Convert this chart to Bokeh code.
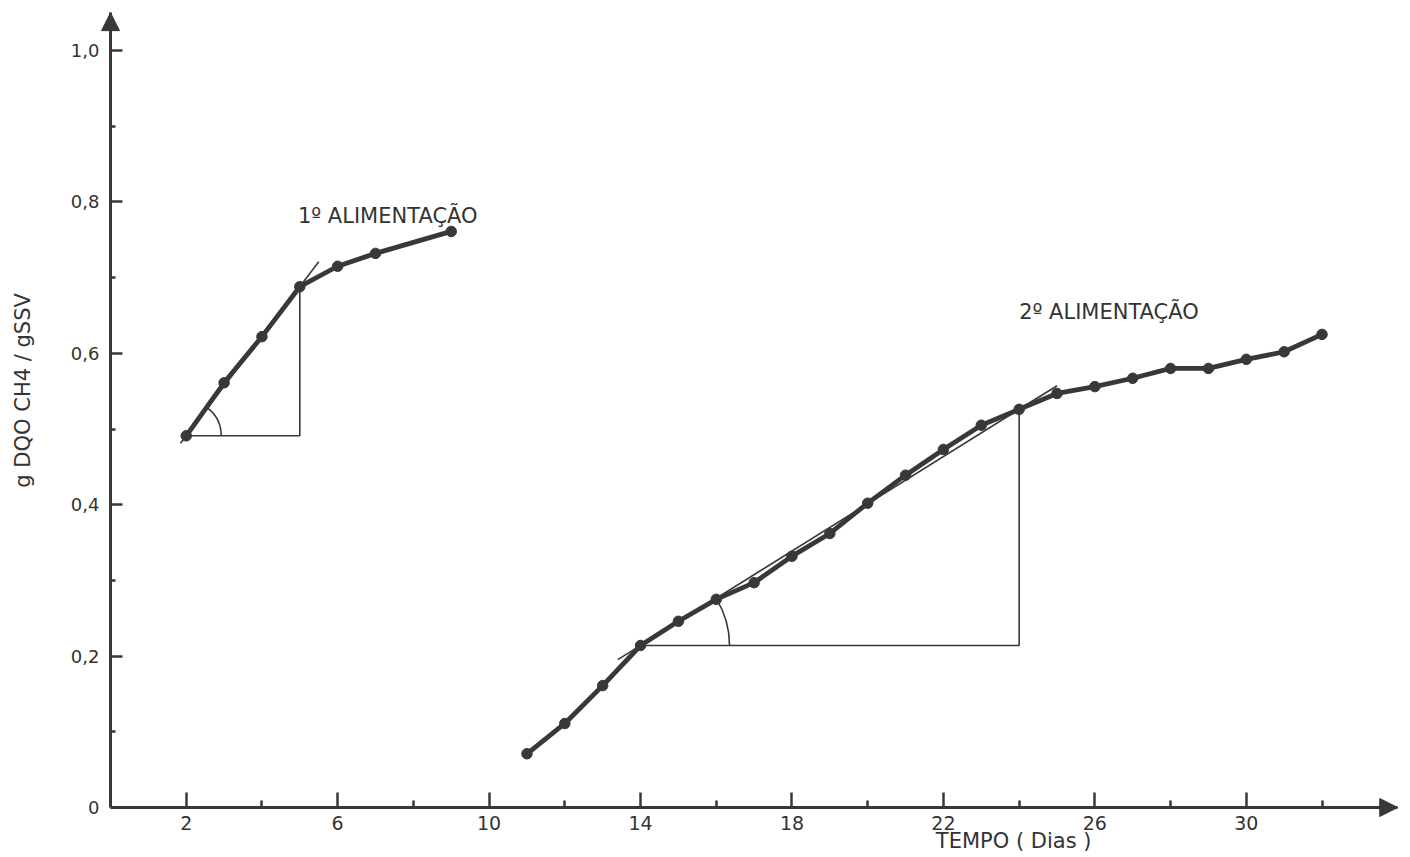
import math
from bokeh.plotting import figure
from bokeh.models import FixedTicker, CustomJSTickFormatter, Label, Arrow, NormalHead
from bokeh.embed import file_html
from bokeh.resources import INLINE

# ---------------- data ----------------
days_1 = [2, 3, 4, 5, 6, 7, 9]
cod_1 = [0.491, 0.561, 0.622, 0.688, 0.715, 0.732, 0.761]

days_2 = [11, 12, 13, 14, 15, 16, 17, 18, 19, 20, 21, 22, 23, 24, 25, 26, 27, 28, 29, 30, 31, 32]
cod_2 = [0.071, 0.111, 0.161, 0.214, 0.246, 0.275, 0.297, 0.332, 0.362, 0.402, 0.439,
         0.473, 0.505, 0.526, 0.547, 0.556, 0.567, 0.580, 0.580, 0.592, 0.602, 0.625]

x_ticks = [2, 6, 10, 14, 18, 22, 26, 30]
x_tick_labels = ["2", "6", "10", "14", "18", "22", "26", "30"]
x_minor_ticks = [4, 8, 12, 16, 20, 24, 28, 32]

y_ticks = [0, 0.2, 0.4, 0.6, 0.8, 1.0]
y_tick_labels = ["0", "0,2", "0,4", "0,6", "0,8", "1,0"]
y_minor_ticks = [0.1, 0.3, 0.5, 0.7, 0.9]

series_labels = ["1º ALIMENTAÇÃO", "2º ALIMENTAÇÃO"]
x_title = "TEMPO ( Dias )"
y_title = "g DQO CH4 / gSSV"

# index pairs of the points used for the slope (tangent) construction
slope_idx_1 = (0, 3)
slope_idx_2 = (3, 13)

# ---------------- layout ----------------
W, H = 1402, 857
ORIGIN_X, ORIGIN_Y = 110, 807          # pixel position of (0, 0)
PX_X, PX_Y = 37.86, 757.0              # pixels per day, pixels per unit
X_AX_END, Y_AX_END = 34.0, 1.05        # axis extents (arrow tips)

x_start = -ORIGIN_X / PX_X
x_end = (W - ORIGIN_X) / PX_X
y_start = -(H - ORIGIN_Y) / PX_Y
y_end = ORIGIN_Y / PX_Y

INK = "#383838"
TXT = "#333333"
FONT = "DejaVu Sans"

p = figure(width=W, height=H, x_range=(x_start, x_end), y_range=(y_start, y_end),
           output_backend="svg", toolbar_location=None,
           min_border_left=0, min_border_right=0, min_border_top=0, min_border_bottom=0)
p.outline_line_color = None
p.xgrid.grid_line_color = None
p.ygrid.grid_line_color = None
p.background_fill_color = "white"
p.border_fill_color = "white"

fmt_js = ("const i = tvals.findIndex(t => Math.abs(t - tick) < 1e-6); "
          "return i >= 0 ? tlabels[i] : '';")

for ax, tv, minor, labels, tin, min_in, fs, so, bnd in (
        (p.xaxis, x_ticks, x_minor_ticks, x_tick_labels, 15, 7, "19px", 8, (0, X_AX_END)),
        (p.yaxis, y_ticks, y_minor_ticks, y_tick_labels, 12, 5, "18px", 11, (0, Y_AX_END))):
    ax.fixed_location = 0
    ax.bounds = bnd
    ax.ticker = FixedTicker(ticks=tv, minor_ticks=minor)
    ax.formatter = CustomJSTickFormatter(args=dict(tvals=tv, tlabels=labels), code=fmt_js)
    ax.axis_line_width = 3
    ax.axis_line_color = INK
    ax.major_tick_in = tin
    ax.major_tick_out = 0
    ax.minor_tick_in = min_in
    ax.minor_tick_out = 0
    ax.major_tick_line_width = 2.5
    ax.minor_tick_line_width = 2.5
    ax.major_tick_line_color = INK
    ax.minor_tick_line_color = INK
    ax.major_label_text_font = FONT
    ax.major_label_text_font_size = fs
    ax.major_label_text_color = TXT
    ax.major_label_standoff = so

# axis arrows
p.add_layout(Arrow(x_start=X_AX_END - 0.6, y_start=0, x_end=X_AX_END, y_end=0, line_width=3, line_color=INK,
                   end=NormalHead(size=18, fill_color=INK, line_color=INK)))
p.add_layout(Arrow(x_start=0, y_start=Y_AX_END - 0.03, x_end=0, y_end=Y_AX_END, line_width=3, line_color=INK,
                   end=NormalHead(size=18, fill_color=INK, line_color=INK)))


def construction(xs, ys, idx, ext_lo, ext_hi, radius):
    i0, i1 = idx
    x0, y0, x1, y1 = xs[i0], ys[i0], xs[i1], ys[i1]
    m = (y1 - y0) / (x1 - x0)
    # tangent line
    xa, xb = x0 - ext_lo, x1 + ext_hi
    p.line([xa, xb], [y0 + m * (xa - x0), y0 + m * (xb - x0)], line_width=1.6, line_color=INK)
    # right triangle
    p.line([x0, x1, x1], [y0, y0, y1], line_width=1.6, line_color=INK)
    theta = math.atan(m * PX_Y / PX_X)
    p.arc(x=[x0], y=[y0], radius=radius, radius_units="screen", start_angle=0, end_angle=theta,
          line_width=1.6, line_color=INK)


construction(days_1, cod_1, slope_idx_1, 0.15, 0.5, 35)
construction(days_2, cod_2, slope_idx_2, 0.6, 1.0, 89)

for xs, ys in ((days_1, cod_1), (days_2, cod_2)):
    p.line(xs, ys, line_width=4.8, line_color=INK)
    p.scatter(xs, ys, size=10.5, fill_color=INK, line_color=INK)

p.add_layout(Label(x=4.95, y=0.782, text=series_labels[0], text_baseline="middle",
                   text_font=FONT, text_font_size="21px", text_color=TXT))
p.add_layout(Label(x=24.0, y=0.654, text=series_labels[1], text_baseline="middle",
                   text_font=FONT, text_font_size="21px", text_color=TXT))
p.add_layout(Label(x=21.8, y=-0.044, text=x_title, text_baseline="middle",
                   text_font=FONT, text_font_size="21px", text_color=TXT))
p.add_layout(Label(x=-2.32, y=0.551, text=y_title, text_baseline="middle", text_align="center",
                   angle=math.pi / 2, text_font=FONT, text_font_size="21px", text_color=TXT))

open("out.html", "w").write(file_html(p, INLINE))
